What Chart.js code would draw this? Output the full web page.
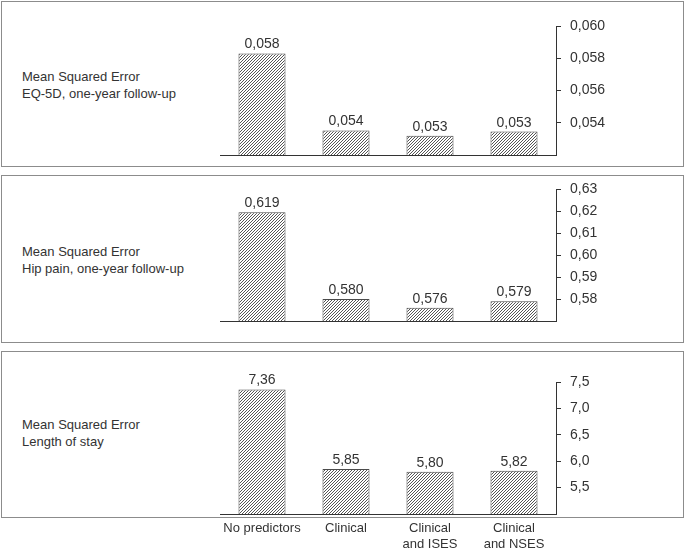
<!DOCTYPE html>
<html>
<head>
<meta charset="utf-8">
<script src="https://cdn.jsdelivr.net/npm/chart.js@4.4.1/dist/chart.umd.min.js"></script>
<style>
html, body { margin: 0; padding: 0; background: #fff; }
body { width: 685px; height: 549px; position: relative; overflow: hidden; font-family: "Liberation Sans", Arial, sans-serif; color: #333; }
.box { position: absolute; left: 1px; width: 683px; border: 1px solid #8c8c8c; box-sizing: border-box; }
.wrap { position: absolute; left: 0; width: 685px; }
.lbl { position: absolute; left: 22px; font-size: 13px; line-height: 17px; white-space: nowrap; }
</style>
</head>
<body>
<div class="box" style="top:1px;height:166px"></div>
<div class="box" style="top:175px;height:168px"></div>
<div class="box" style="top:351px;height:167px"></div>

<div class="lbl" style="top:68px">Mean Squared Error<br>EQ-5D, one-year follow-up</div>
<div class="lbl" style="top:243px">Mean Squared Error<br>Hip pain, one-year follow-up</div>
<div class="lbl" style="top:416px">Mean Squared Error<br>Length of stay</div>

<div class="wrap" style="top:0;height:180px"><canvas id="eq5d"></canvas></div>
<div class="wrap" style="top:170px;height:175px"><canvas id="hip"></canvas></div>
<div class="wrap" style="top:345px;height:204px"><canvas id="los"></canvas></div>

<script>
const categories = [['No predictors'], ['Clinical'], ['Clinical', 'and ISES'], ['Clinical', 'and NSES']];

const eq5dValues = [0.0583, 0.05352, 0.0532, 0.05345];
const eq5dLabels = ['0,058', '0,054', '0,053', '0,053'];
const hipValues = [0.6196, 0.5800, 0.5760, 0.5790];
const hipLabels = ['0,619', '0,580', '0,576', '0,579'];
const losValues = [7.36, 5.85, 5.80, 5.82];
const losLabels = ['7,36', '5,85', '5,80', '5,82'];

Chart.defaults.font.family = '"Liberation Sans", Arial, sans-serif';
Chart.defaults.color = '#333';

function hatch() {
  const c = document.createElement('canvas');
  c.width = 3; c.height = 3;
  const g = c.getContext('2d');
  g.fillStyle = '#fff';
  g.fillRect(0, 0, 3, 3);
  g.strokeStyle = '#555';
  g.lineWidth = 1;
  g.beginPath();
  g.moveTo(0, 3); g.lineTo(3, 0);
  g.moveTo(-1, 1); g.lineTo(1, -1);
  g.moveTo(2, 4); g.lineTo(4, 2);
  g.stroke();
  return g.createPattern(c, 'repeat');
}

function valueLabels(texts) {
  return {
    id: 'valueLabels',
    afterDatasetsDraw(chart) {
      const ctx = chart.ctx;
      ctx.save();
      ctx.font = '14px "Liberation Sans", Arial, sans-serif';
      ctx.fillStyle = '#333';
      ctx.textAlign = 'center';
      ctx.textBaseline = 'alphabetic';
      chart.getDatasetMeta(0).data.forEach((bar, i) => {
        ctx.fillText(texts[i], bar.x, bar.y - 5);
      });
      ctx.restore();
    }
  };
}

function panel(id, values, texts, yMin, yMax, step, decimals, showX, padding, xHeight) {
  new Chart(document.getElementById(id), {
    type: 'bar',
    data: {
      labels: categories,
      datasets: [{
        data: values,
        backgroundColor: hatch(),
        borderColor: '#4a4a4a',
        borderWidth: 1,
        borderSkipped: 'bottom',
        barPercentage: 0.56,
        categoryPercentage: 1
      }]
    },
    plugins: [valueLabels(texts)],
    options: {
      responsive: true,
      maintainAspectRatio: false,
      animation: false,
      layout: { padding: padding },
      plugins: { legend: { display: false }, tooltip: { enabled: false } },
      scales: {
        x: {
          grid: { display: false, drawTicks: false },
          border: { color: '#333', width: 1 },
          ticks: { display: showX, color: '#333', font: { size: 13, lineHeight: 1.25 }, padding: 6, maxRotation: 0, autoSkip: false },
          afterFit: s => { s.height = xHeight; }
        },
        y: {
          position: 'right',
          min: yMin,
          max: yMax,
          grid: { drawOnChartArea: false, color: '#333', tickLength: 5 },
          border: { color: '#333', width: 1 },
          ticks: {
            stepSize: step,
            color: '#333',
            font: { size: 14 },
            padding: 9,
            callback: v => v.toFixed(decimals).replace('.', ',')
          },
          afterBuildTicks: s => { s.ticks = s.ticks.filter(t => t.value > yMin + step / 10); },
          afterFit: s => { s.width = 60; }
        }
      }
    }
  });
}

panel('eq5d', eq5dValues, eq5dLabels, 0.052, 0.060, 0.002, 3, false, { left: 220, right: 69, top: 26, bottom: 25 }, 0);
panel('hip', hipValues, hipLabels, 0.57, 0.63, 0.01, 2, false, { left: 220, right: 69, top: 19.5, bottom: 24 }, 0);
panel('los', losValues, losLabels, 5.0, 7.5, 0.5, 1, true, { left: 220, right: 69, top: 37, bottom: 0 }, 35);
</script>
</body>
</html>
